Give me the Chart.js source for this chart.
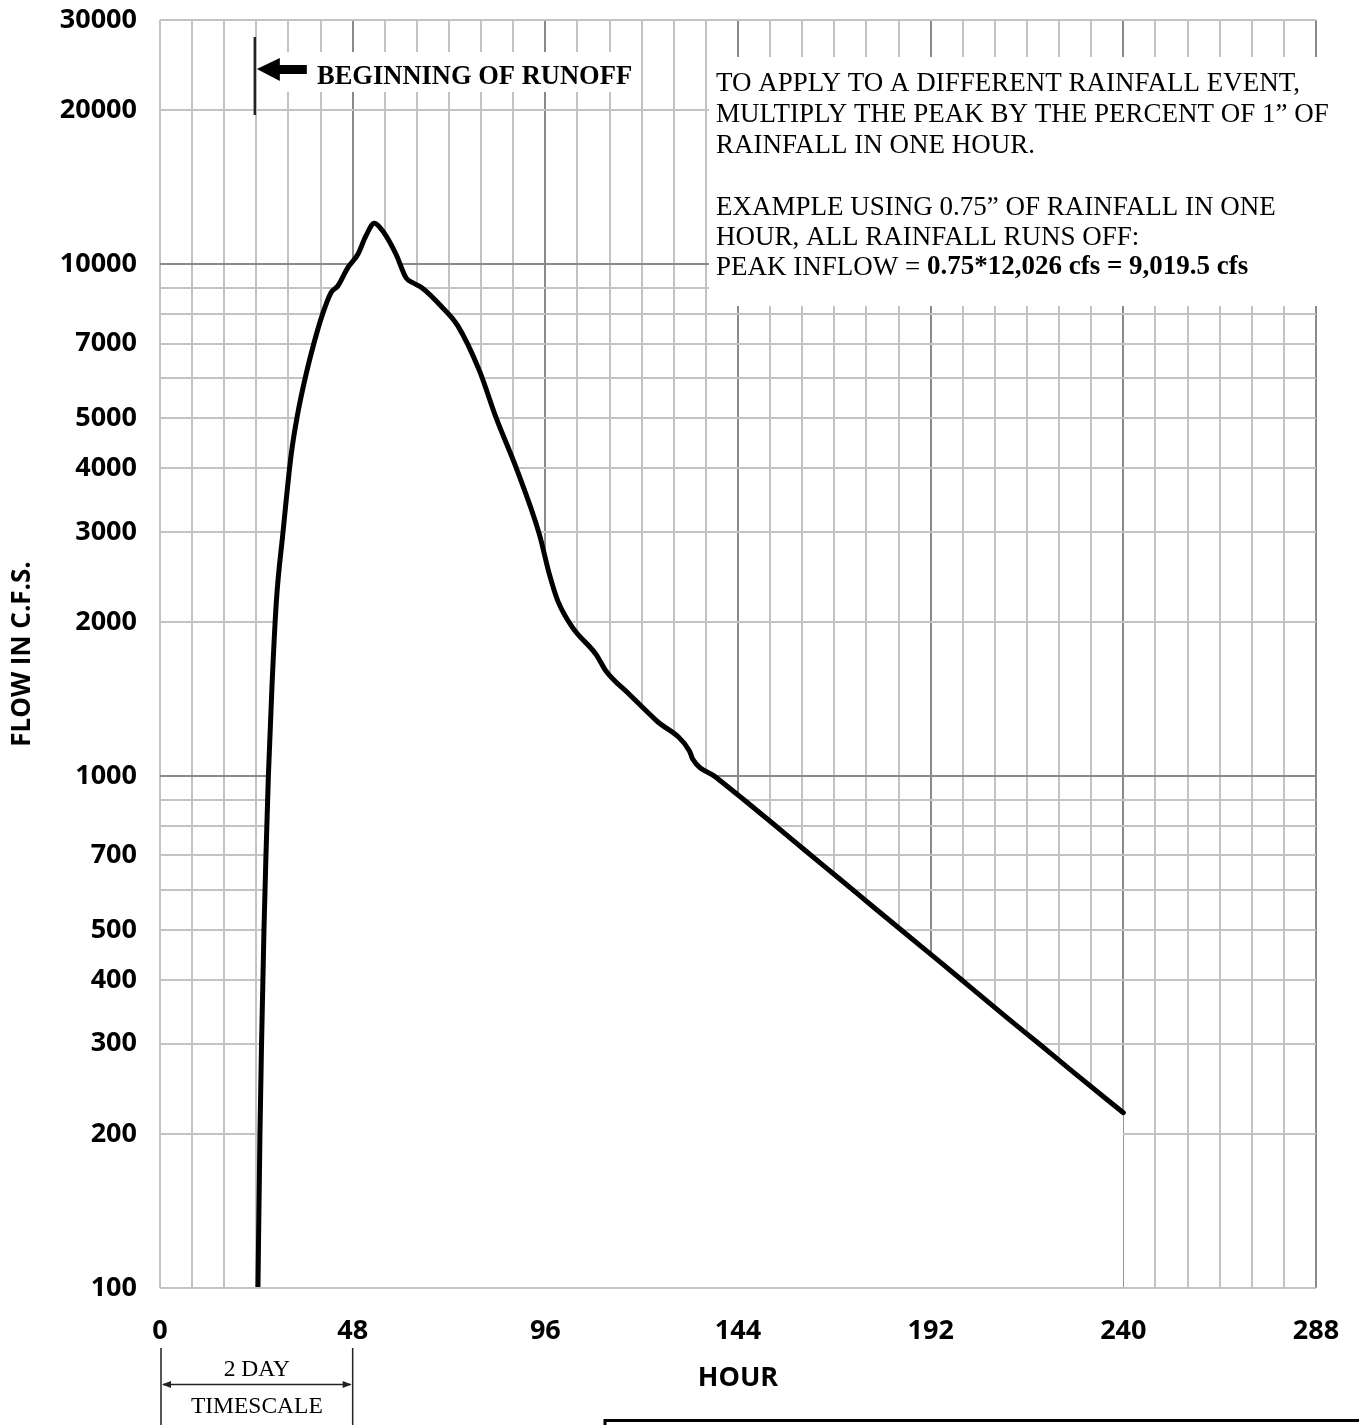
<!DOCTYPE html>
<html>
<head>
<meta charset="utf-8">
<title>Flow hydrograph</title>
<script src="https://cdn.jsdelivr.net/npm/chart.js@4.4.1/dist/chart.umd.min.js"></script>
<style>
  html, body { margin: 0; padding: 0; background: #fff; }
  .wrap { position: relative; width: 1359px; height: 1425px; }
</style>
</head>
<body>
<div class="wrap"><canvas id="flowChart"></canvas></div>
<script>
// 流量ハイドログラフ (hour / cfs)
const hours = [24.4, 24.9, 25.3, 25.9, 26.4, 27.0, 27.9, 29.0, 30.6, 32.7, 34.3, 36.4, 38.5, 40.5,
  42.6, 44.3, 46.8, 49.3, 51.3, 53.4, 55.5, 58.8, 61.3, 63.0, 65.4, 70.0, 74.2, 79.6, 83.7, 88.7,
  94.5, 97.0, 99.1, 102.8, 108.6, 111.1, 116.9, 123.6, 131.9, 132.7, 138.5, 145.1, 152.6, 160.9,
  169.2, 177.5, 185.8, 194.1, 202.4, 210.7, 219.0, 227.3, 240.0];
const flows = [100, 200, 300, 500, 700, 1000, 1500, 2200, 2970, 4260, 5100, 6100, 7080, 7990,
  8800, 9070, 9850, 10460, 11360, 12026, 11610, 10460, 9410, 9200, 8980, 8290, 7580, 6190, 5020, 4010,
  2970, 2480, 2200, 1950, 1730, 1605, 1445, 1285, 1120, 1080, 995, 904, 809, 714,
  631, 557, 492, 435, 384, 339, 300, 265, 220];

// 軸の目盛
const hourLabels = [0, 48, 96, 144, 192, 240, 288];
const hourGridStep = 8;
const flowLabels = [100, 200, 300, 400, 500, 700, 1000, 2000, 3000, 4000, 5000, 7000, 10000, 20000, 30000];
const flowGrid = [100, 200, 300, 400, 500, 600, 700, 800, 900, 1000, 2000, 3000, 4000, 5000,
  6000, 7000, 8000, 9000, 10000, 20000, 30000];

// 注記
const runoffHour = 24;
const noteLines = [
  'TO APPLY TO A DIFFERENT RAINFALL EVENT,',
  'MULTIPLY THE PEAK BY THE PERCENT OF 1\u201D OF',
  'RAINFALL IN ONE HOUR.',
  '',
  'EXAMPLE USING 0.75\u201D OF RAINFALL IN ONE',
  'HOUR, ALL RAINFALL RUNS OFF:'
];
const peakText = 'PEAK INFLOW = ';
const peakBold = '0.75*12,026 cfs = 9,019.5 cfs';

const lightGrid = '#c3c3c3';
const darkGrid = '#8a8a8a';
const sans = "'Open Sans', sans-serif";
const serif = '"Liberation Serif", "Times New Roman", serif';

// 軸の余白を消してプロット枠を固定
function noPad(scale) {
  scale.paddingTop = 0;
  scale.paddingBottom = 0;
  scale.paddingLeft = 0;
  scale.paddingRight = 0;
}

// 注記・白抜きボックス
const notes = {
  id: 'notes',
  afterDatasetsDraw(chart) {
    const ctx = chart.ctx;
    const area = chart.chartArea;
    const x = chart.scales.x;
    ctx.save();

    // 塗りで隠れた下枠
    ctx.strokeStyle = lightGrid;
    ctx.lineWidth = 2;
    ctx.beginPath();
    ctx.moveTo(area.left, area.bottom);
    ctx.lineTo(area.right, area.bottom);
    ctx.stroke();

    // BEGINNING OF RUNOFF
    const rx = x.getPixelForValue(runoffHour) - 1.5;
    ctx.fillStyle = '#fff';
    ctx.fillRect(rx + 7, 52, 636 - rx - 7, 40);
    ctx.strokeStyle = '#222';
    ctx.lineWidth = 2.5;
    ctx.beginPath();
    ctx.moveTo(rx, 37);
    ctx.lineTo(rx, 115);
    ctx.stroke();
    ctx.fillStyle = '#000';
    ctx.beginPath();
    ctx.moveTo(rx + 2, 69);
    ctx.lineTo(rx + 25, 58);
    ctx.lineTo(rx + 25, 65);
    ctx.lineTo(rx + 52, 65);
    ctx.lineTo(rx + 52, 74);
    ctx.lineTo(rx + 25, 74);
    ctx.lineTo(rx + 25, 81);
    ctx.closePath();
    ctx.fill();
    ctx.font = 'bold 26.5px ' + serif;
    ctx.textBaseline = 'middle';
    ctx.textAlign = 'left';
    ctx.fillText('BEGINNING OF RUNOFF', 317, 77);

    // 右上の説明
    ctx.fillStyle = '#fff';
    ctx.fillRect(709, 57, 650, 249);
    ctx.fillStyle = '#000';
    ctx.font = '27px ' + serif;
    const lineY = [84, 115, 145.5, 177, 208, 238];
    noteLines.forEach((t, i) => ctx.fillText(t, 716, lineY[i]));
    ctx.fillText(peakText, 716, 267.5);
    const w = ctx.measureText(peakText).width;
    ctx.font = 'bold 27px ' + serif;
    ctx.fillText(peakBold, 716 + w, 267.5);

    // 2 DAY TIMESCALE
    const x0 = x.getPixelForValue(0) + 1;
    const x48 = x.getPixelForValue(48);
    ctx.strokeStyle = '#222';
    ctx.lineWidth = 1.5;
    ctx.beginPath();
    ctx.moveTo(x0, 1348); ctx.lineTo(x0, 1425);
    ctx.moveTo(x48, 1348); ctx.lineTo(x48, 1425);
    ctx.moveTo(x0 + 2, 1384.5); ctx.lineTo(x48 - 2, 1384.5);
    ctx.stroke();
    ctx.fillStyle = '#222';
    ctx.beginPath();
    ctx.moveTo(x0 + 1, 1384.5); ctx.lineTo(x0 + 10, 1381); ctx.lineTo(x0 + 10, 1388); ctx.closePath();
    ctx.moveTo(x48 - 1, 1384.5); ctx.lineTo(x48 - 10, 1381); ctx.lineTo(x48 - 10, 1388); ctx.closePath();
    ctx.fill();
    ctx.fillStyle = '#000';
    ctx.font = '23.5px ' + serif;
    ctx.textAlign = 'center';
    ctx.fillText('2 DAY', (x0 + x48) / 2, 1370);
    ctx.fillText('TIMESCALE', (x0 + x48) / 2, 1407);

    // 下の枠
    ctx.strokeStyle = '#000';
    ctx.lineWidth = 3;
    ctx.strokeRect(605, 1420.5, 780, 30);
    ctx.restore();
  }
};

const ctx = document.getElementById('flowChart').getContext('2d');
new Chart(ctx, {
  type: 'line',
  data: {
    datasets: [{
      data: hours.map((h, i) => ({ x: h, y: flows[i] })),
      borderColor: '#000',
      borderWidth: 5,
      backgroundColor: '#fff',
      fill: 'start',
      pointRadius: 0,
      cubicInterpolationMode: 'monotone',
      borderCapStyle: 'round',
      borderJoinStyle: 'round'
    }]
  },
  options: {
    responsive: true,
    maintainAspectRatio: false,
    animation: false,
    devicePixelRatio: 1,
    layout: { padding: { top: 20, right: 43, left: 0, bottom: 0 } },
    scales: {
      x: {
        type: 'linear',
        min: 0,
        max: 288,
        afterBuildTicks: (scale) => {
          const t = [];
          for (let v = 0; v <= 288; v += hourGridStep) t.push({ value: v });
          scale.ticks = t;
        },
        afterFit: (scale) => { scale.height = 137; noPad(scale); },
        border: { display: false },
        grid: {
          drawTicks: false,
          lineWidth: 2,
          color: (c) => {
            const v = c.tick ? c.tick.value : 0;
            return (v > 0 && v % 48 === 0) ? darkGrid : lightGrid;
          }
        },
        ticks: {
          autoSkip: false,
          maxRotation: 0,
          padding: 27,
          color: '#000',
          font: { family: sans, weight: 'bold', size: 27 },
          callback: (v) => hourLabels.includes(v) ? String(v) : ''
        },
        title: {
          display: true,
          text: 'HOUR',
          color: '#000',
          font: { family: sans, weight: 'bold', size: 27 },
          padding: { bottom: 30 }
        }
      },
      y: {
        type: 'logarithmic',
        min: 100,
        max: 30000,
        afterBuildTicks: (scale) => {
          scale.ticks = flowGrid.map((v) => ({ value: v }));
        },
        afterFit: (scale) => { scale.width = 160; noPad(scale); },
        border: { display: false },
        grid: {
          drawTicks: false,
          lineWidth: 2,
          color: (c) => {
            const v = c.tick ? c.tick.value : 0;
            return (v === 1000 || v === 10000) ? darkGrid : lightGrid;
          }
        },
        ticks: {
          autoSkip: false,
          padding: 23,
          color: '#000',
          font: { family: sans, weight: 'bold', size: 27 },
          callback: (v) => flowLabels.includes(v) ? String(v) : ''
        },
        title: {
          display: true,
          text: 'FLOW IN C.F.S.',
          color: '#000',
          font: { family: sans, weight: 'bold', size: 26 },
          padding: { top: 7 }
        }
      }
    },
    plugins: {
      legend: { display: false },
      tooltip: { enabled: false }
    }
  },
  plugins: [notes]
});
</script>
</body>
</html>
